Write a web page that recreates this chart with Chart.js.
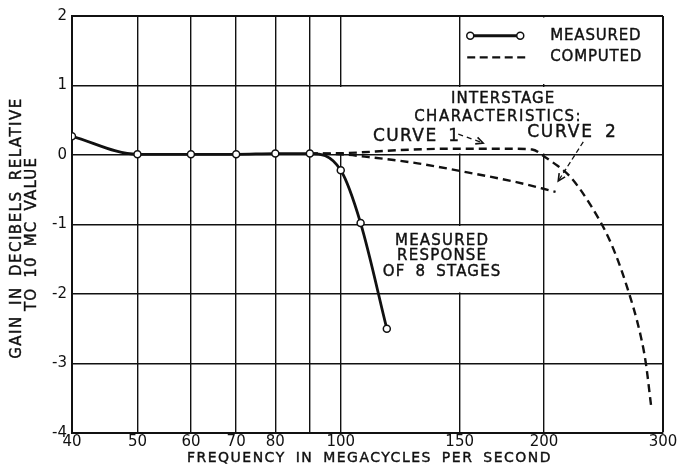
<!DOCTYPE html>
<html>
<head>
<meta charset="utf-8">
<script src="https://cdn.jsdelivr.net/npm/chart.js@4.4.1/dist/chart.umd.min.js"></script>
<style>
  html, body { margin: 0; padding: 0; background: #fff; }
  #wrap { width: 681px; height: 466px; }
</style>
</head>
<body>
<div id="wrap"><canvas id="chart" width="681" height="466"></canvas></div>
<script>
// frequency grid (MC) and labelled ticks
const GRID_FREQS = [40, 50, 60, 70, 80, 90, 100, 150, 200, 300];
const TICK_FREQS = [40, 50, 60, 70, 80, 100, 150, 200, 300];
const GAIN_TICKS = [2, 1, 0, -1, -2, -3, -4];

// measured response of 8 stages
const measuredFreq = [40, 50, 60, 70, 80, 90, 100, 107, 117];
const measuredGain = [0.27, 0.01, 0.01, 0.01, 0.02, 0.02, -0.22, -0.98, -2.5];

// computed interstage characteristics
const curve1Freq = [90, 103, 122, 145, 175, 192, 200, 207, 218, 234, 251, 265, 278, 283, 288];
const curve1Gain = [0.02, 0.03, 0.07, 0.09, 0.09, 0.08, -0.02, -0.12, -0.30, -0.71, -1.26, -1.88, -2.6, -3.0, -3.6];
const curve2Freq = [90, 100, 110, 130, 154, 182, 208];
const curve2Gain = [0.02, 0.01, -0.03, -0.12, -0.25, -0.39, -0.53];

const INK = '#111';
const FONT = '"DejaVu Sans", sans-serif';

function pts(xs, ys) {
    return xs.map((x, i) => ({ x, y: ys[i] }));
}

function text(ctx, str, px, py, size, align, spacing) {
    ctx.font = size + 'px ' + FONT;
    ctx.letterSpacing = (spacing || 0) + 'px';
    ctx.wordSpacing = '4px';
    ctx.textAlign = align || 'center';
    ctx.textBaseline = 'middle';
    ctx.fillStyle = INK;
    ctx.strokeStyle = INK;
    ctx.lineWidth = 0.4;
    ctx.fillText(str, px, py);
    ctx.strokeText(str, px, py);
}

function arrow(ctx, x0, y0, x1, y1, dash) {
    ctx.save();
    ctx.strokeStyle = INK;
    ctx.lineWidth = 1.3;
    ctx.setLineDash(dash);
    ctx.beginPath();
    ctx.moveTo(x0, y0);
    ctx.lineTo(x1, y1);
    ctx.stroke();
    ctx.setLineDash([]);
    const a = Math.atan2(y1 - y0, x1 - x0);
    ctx.lineWidth = 1.6;
    ctx.beginPath();
    ctx.moveTo(x1 - 8 * Math.cos(a - 0.45), y1 - 8 * Math.sin(a - 0.45));
    ctx.lineTo(x1, y1);
    ctx.lineTo(x1 - 8 * Math.cos(a + 0.45), y1 - 8 * Math.sin(a + 0.45));
    ctx.stroke();
    ctx.restore();
}

const notes = {
    id: 'notes',
    beforeDatasetsDraw(chart) {
        const { ctx, scales: { x, y } } = chart;
        // gridlines are left out where the captions sit
        const blank = (f0, f1, g0, g1) => {
            const l = x.getPixelForValue(f0) + 1.5, r = x.getPixelForValue(f1) - 1.5;
            const t = y.getPixelForValue(g0) + 1.5, b = y.getPixelForValue(g1) - 1.5;
            ctx.fillRect(l, t, r - l, b - t);
        };
        ctx.save();
        ctx.fillStyle = '#fff';
        blank(150, 300, 2, 1);
        blank(90, 300, 1, 0);
        blank(100, 200, -1, -2);
        ctx.restore();
    },
    afterDatasetsDraw(chart) {
        const { ctx, scales: { x, y } } = chart;
        const X = f => x.getPixelForValue(f);
        const Y = g => y.getPixelForValue(g);
        ctx.save();

        // legend
        const lx0 = X(155.5), lx1 = X(184.4), tx = X(204.3);
        ctx.strokeStyle = INK;
        ctx.lineWidth = 2.8;
        ctx.beginPath();
        ctx.moveTo(lx0, Y(1.716));
        ctx.lineTo(lx1, Y(1.716));
        ctx.stroke();
        ctx.fillStyle = '#fff';
        ctx.lineWidth = 1.5;
        [lx0, lx1].forEach(px => {
            ctx.beginPath();
            ctx.arc(px, Y(1.716), 3.5, 0, Math.PI * 2);
            ctx.fill();
            ctx.stroke();
        });
        ctx.lineWidth = 2.4;
        ctx.setLineDash([8, 4.5]);
        ctx.beginPath();
        ctx.moveTo(X(153.9), Y(1.405));
        ctx.lineTo(X(188.9), Y(1.405));
        ctx.stroke();
        ctx.setLineDash([]);
        text(ctx, 'MEASURED', tx, Y(1.716), 15, 'left', 0.8);
        text(ctx, 'COMPUTED', tx, Y(1.405), 15, 'left', 0.8);

        // captions
        text(ctx, 'INTERSTAGE', X(174), Y(0.805), 15, 'center', 1.1);
        text(ctx, 'CHARACTERISTICS:', X(171), Y(0.55), 15, 'center', 1.5);
        text(ctx, 'CURVE 1', X(111.6), Y(0.27), 17, 'left', 1.4);
        text(ctx, 'CURVE 2', X(188.8), Y(0.316), 17, 'left', 1.8);
        text(ctx, 'MEASURED', X(141.3), Y(-1.235), 15, 'center', 1.2);
        text(ctx, 'RESPONSE', X(141.3), Y(-1.455), 15, 'center', 1.2);
        text(ctx, 'OF 8 STAGES', X(141.3), Y(-1.68), 15, 'center', 1.2);

        arrow(ctx, X(149.3), Y(0.301), X(162.5), Y(0.172), [5, 4]);
        arrow(ctx, X(228.6), Y(0.19), X(209.9), Y(-0.375), [5, 3]);
        ctx.restore();
    },
    afterDraw(chart) {
        const { ctx, chartArea: a } = chart;
        ctx.save();
        text(ctx, 'FREQUENCY IN MEGACYCLES PER SECOND', (a.left + a.right) / 2 + 2, 458, 14, 'center', 1.5);
        ctx.translate(17, 228);
        ctx.rotate(-Math.PI / 2);
        text(ctx, 'GAIN IN DECIBELS RELATIVE', 0, 0, 15, 'center', 1.5);
        ctx.restore();
        ctx.save();
        ctx.translate(32, 234);
        ctx.rotate(-Math.PI / 2);
        text(ctx, 'TO 10 MC VALUE', 0, 0, 15, 'center', 1.2);
        ctx.restore();
    }
};

new Chart(document.getElementById('chart'), {
    type: 'line',
    data: {
        datasets: [{
            label: 'MEASURED',
            data: pts(measuredFreq, measuredGain),
            borderColor: INK,
            borderWidth: 2.8,
            cubicInterpolationMode: 'monotone',
            pointRadius: 3.5,
            pointBackgroundColor: '#fff',
            pointBorderColor: INK,
            pointBorderWidth: 1.5
        }, {
            label: 'CURVE 1',
            data: pts(curve1Freq, curve1Gain),
            borderColor: INK,
            borderWidth: 2.4,
            borderDash: [8, 5],
            cubicInterpolationMode: 'monotone',
            pointRadius: 0
        }, {
            label: 'CURVE 2',
            data: pts(curve2Freq, curve2Gain),
            borderColor: INK,
            borderWidth: 2.4,
            borderDash: [8, 5],
            cubicInterpolationMode: 'monotone',
            pointRadius: 0
        }]
    },
    options: {
        responsive: false,
        animation: false,
        layout: { padding: { top: 16, right: 18, left: 0, bottom: 0 } },
        plugins: { legend: { display: false }, tooltip: { enabled: false } },
        scales: {
            x: {
                type: 'logarithmic',
                min: 40,
                max: 300,
                afterBuildTicks: s => { s.ticks = GRID_FREQS.map(v => ({ value: v })); },
                afterFit: s => { s.height = 33; },
                ticks: {
                    autoSkip: false,
                    maxRotation: 0,
                    padding: 0,
                    color: INK,
                    font: { family: FONT, size: 15 },
                    callback: v => TICK_FREQS.includes(v) ? String(v) : ''
                },
                grid: {
                    color: INK,
                    drawTicks: false,
                    lineWidth: c => (c.tick && c.tick.value === 300 ? 2 : 1.4)
                },
                border: { color: INK, width: 2 }
            },
            y: {
                min: -4,
                max: 2,
                afterBuildTicks: s => { s.ticks = GAIN_TICKS.map(v => ({ value: v })); },
                afterFit: s => { s.width = 72; },
                ticks: {
                    padding: 5,
                    color: INK,
                    font: { family: FONT, size: 15 },
                    callback: v => String(v)
                },
                grid: {
                    color: INK,
                    drawTicks: false,
                    lineWidth: c => (c.tick && c.tick.value === 2 ? 2 : 1.4)
                },
                border: { color: INK, width: 2 }
            }
        }
    },
    plugins: [notes]
});
</script>
</body>
</html>
